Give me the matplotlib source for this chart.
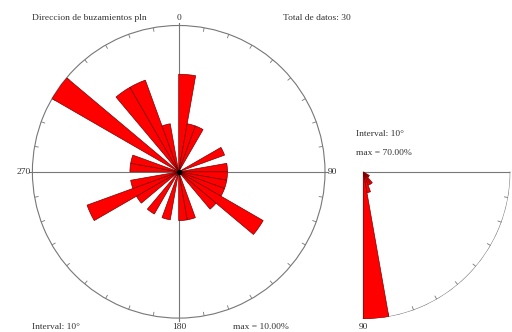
import numpy as np
import matplotlib
matplotlib.use("Agg")
import matplotlib.pyplot as plt

plt.rcParams['font.family'] = ['Liberation Serif', 'DejaVu Serif']

# Dip direction (azimuth) counts, 10 degree bins starting at 0
azimuth_bins = np.arange(0, 360, 10)
azimuth_counts = [2, 1, 1, 0, 0, 0, 1, 0, 1, 1, 1, 1,
                  2, 1, 0, 0, 1, 1, 0, 1, 0, 1, 0, 1,
                  2, 1, 0, 1, 1, 0, 3, 0, 2, 2, 1, 0]

# Dip angle counts, 10 degree bins from 0 to 90
dip_bins = np.arange(0, 90, 10)
dip_counts = [0, 0, 0, 1, 1, 2, 2, 3, 21]

total = 30
rose_max = 10.0   # percent at outer circle
dip_max = 70.0

W, H = 512, 332
GRAY = '#777777'
TXT = '#333333'
FS = 6.8


def rect(cx, cy, r):
    return [(cx - r) / W, 1 - (cy + r) / H, 2 * r / W, 2 * r / H]


def ftext(x, y, s, **kw):
    fig.text(x / W, 1 - y / H, s, fontsize=FS, color=TXT, va='center', **kw)


fig = plt.figure(figsize=(W / 100, H / 100), dpi=100)

# --- rose of dip directions ---
ax = fig.add_axes(rect(178.7, 171.8, 146.3), projection='polar')
ax.set_theta_zero_location('N')
ax.set_theta_direction(-1)
ax.set_ylim(0, rose_max)
ax.grid(False)
ax.set_xticks([])
ax.set_yticks([])
ax.set_facecolor('none')
ax.spines['polar'].set_color(GRAY)
ax.spines['polar'].set_linewidth(0.8)

pct = np.array(azimuth_counts) / total * 100
ax.bar(np.radians(azimuth_bins + 5), pct, width=np.radians(10),
       color='#ff0000', edgecolor='#7a0000', linewidth=0.5, zorder=3)

for a in (0, 90, 180, 270):
    ax.plot([np.radians(a)] * 2, [0, rose_max * 1.02], color=GRAY,
            lw=0.8, zorder=2, clip_on=False)
for a in range(0, 360, 10):
    ax.plot([np.radians(a)] * 2, [rose_max * 0.975, rose_max], color=GRAY,
            lw=0.6, zorder=2)
ax.plot([0], [0], 'o', color='black', ms=3, zorder=4)

# --- dip angle quadrant ---
ax2 = fig.add_axes(rect(363.3, 172.0, 147.0), projection='polar')
ax2.set_theta_zero_location('E')
ax2.set_theta_direction(-1)
ax2.set_ylim(0, dip_max)
ax2.grid(False)
ax2.set_xticks([])
ax2.set_yticks([])
ax2.set_facecolor('none')
ax2.spines['polar'].set_visible(False)

dpct = np.array(dip_counts) / total * 100
ax2.bar(np.radians(dip_bins + 5), dpct, width=np.radians(10),
        color='#ff0000', edgecolor='#7a0000', linewidth=0.5, zorder=3)

arc = np.radians(np.linspace(0, 90, 200))
ax2.plot(arc, np.full_like(arc, dip_max), color=GRAY, lw=0.8, zorder=2)
ax2.plot([0, 0], [0, dip_max], color=GRAY, lw=0.8, zorder=2)
ax2.plot([np.pi / 2] * 2, [0, dip_max], color=GRAY, lw=0.8, zorder=2)
for a in range(10, 90, 10):
    ax2.plot([np.radians(a)] * 2, [dip_max * 0.975, dip_max], color=GRAY,
             lw=0.6, zorder=2)

# --- labels ---
ftext(32, 18, 'Direccion de buzamientos pln')
ftext(179, 18, '0', ha='center')
ftext(283, 18, 'Total de datos: 30')
ftext(31, 172, '270', ha='right')
ftext(328, 172, '90')
ftext(32, 327, 'Interval: 10°')
ftext(179, 327, '180', ha='center')
ftext(233, 327, 'max = 10.00%')
ftext(356, 134, 'Interval: 10°')
ftext(356, 153, 'max = 70.00%')
ftext(363, 327, '90', ha='center')

fig.savefig('out.png', dpi=100)
